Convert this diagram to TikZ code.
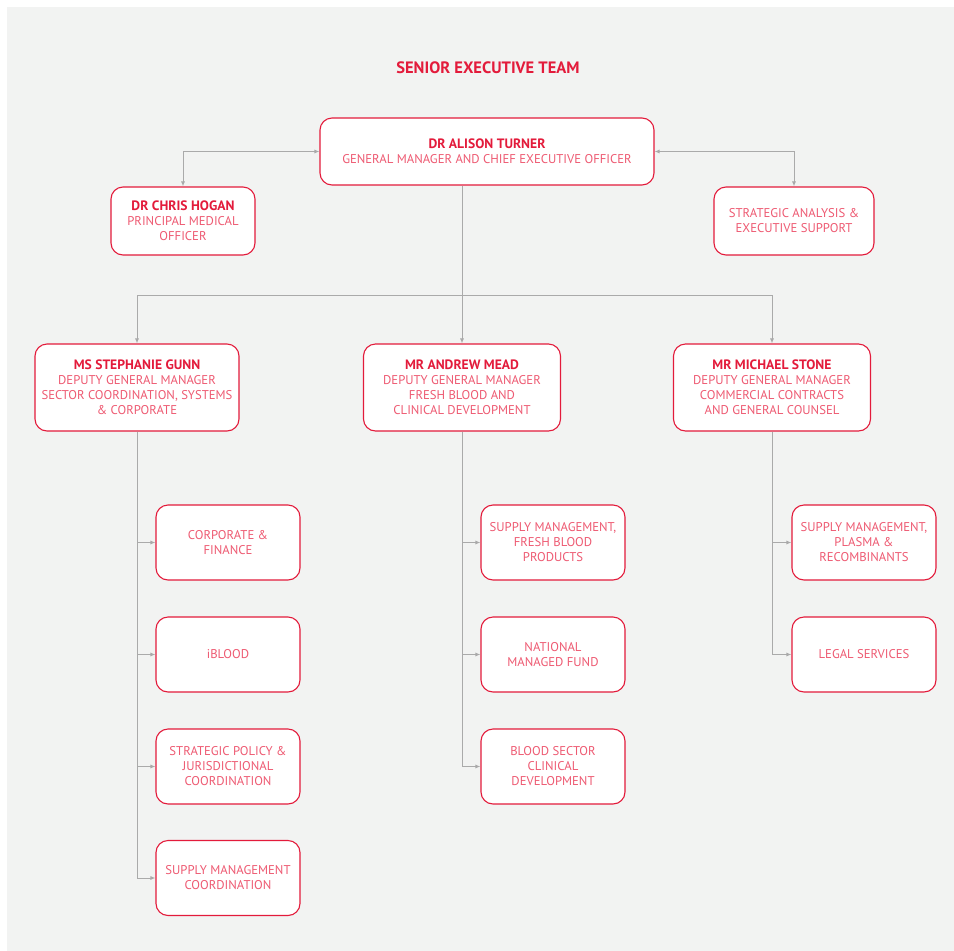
\documentclass[tikz,border=0pt]{standalone}
\usepackage{fontspec}
\setmainfont{PT Sans}
\usepackage{tikz}
\usetikzlibrary{arrows.meta, positioning}

\definecolor{bloodred}{RGB}{227, 27, 59}
\definecolor{softred}{RGB}{238, 90, 114}
\definecolor{panelgrey}{RGB}{242, 243, 242}
\definecolor{linkgrey}{RGB}{170, 170, 170}

\newcommand{\headname}[1]{{\fontsize{13.6}{15}\selectfont\bfseries\color{bloodred}#1}}

\tikzset{
  orgbox/.style={draw=bloodred, fill=white, rounded corners=12pt, line width=1.1pt,
    align=center, inner sep=2pt, text=softred, font=\fontsize{12.7}{15}\selectfont},
  childbox/.style={orgbox, minimum width=144pt, minimum height=75pt},
  link/.style={draw=linkgrey, line width=0.9pt},
  tip/.style={-{Latex[length=5pt, width=4pt]}},
  bothtips/.style={{Latex[length=5pt, width=4pt]}-{Latex[length=5pt, width=4pt]}}
}

\begin{document}
\begin{tikzpicture}[x=1pt, y=-1pt]
  \useasboundingbox (0,0) rectangle (954,951);
  \fill[panelgrey] (7,7) rectangle (954,951);

  \node[font=\fontsize{16.5}{18}\selectfont\bfseries, text=bloodred] (title) at (488,68) {SENIOR EXECUTIVE TEAM};

  % executive level
  \node[orgbox, minimum width=334pt, minimum height=67pt] (ceo) at (487,151.5) {
    \headname{DR ALISON TURNER}\\
    GENERAL MANAGER AND CHIEF EXECUTIVE OFFICER
  };
  \node[orgbox, minimum width=144pt, minimum height=68pt] (hogan) at (183,221) {
    \headname{DR CHRIS HOGAN}\\
    PRINCIPAL MEDICAL\\ OFFICER
  };
  \node[orgbox, minimum width=160pt, minimum height=68pt] (analysis) at (794,221) {
    STRATEGIC ANALYSIS \&\\ EXECUTIVE SUPPORT
  };

  % deputies
  \node[orgbox, minimum width=204pt, minimum height=87pt] (gunn) at (137,387.5) {
    \headname{MS STEPHANIE GUNN}\\
    DEPUTY GENERAL MANAGER\\ SECTOR COORDINATION, SYSTEMS\\ \& CORPORATE
  };
  \node[orgbox, minimum width=197pt, minimum height=87pt] (mead) at (462,387.5) {
    \headname{MR ANDREW MEAD}\\
    DEPUTY GENERAL MANAGER\\ FRESH BLOOD AND\\ CLINICAL DEVELOPMENT
  };
  \node[orgbox, minimum width=197pt, minimum height=87pt] (stone) at (772,387.5) {
    \headname{MR MICHAEL STONE}\\
    DEPUTY GENERAL MANAGER\\ COMMERCIAL CONTRACTS\\ AND GENERAL COUNSEL
  };

  % units
  \node[childbox] (corp) at (228,542.5) {CORPORATE \&\\ FINANCE};
  \node[childbox] (iblood) at (228,654.5) {iBLOOD};
  \node[childbox] (policy) at (228,766.5) {STRATEGIC POLICY \&\\ JURISDICTIONAL\\ COORDINATION};
  \node[childbox] (supcoord) at (228,878) {SUPPLY MANAGEMENT\\ COORDINATION};

  \node[childbox] (freshsup) at (553,542.5) {SUPPLY MANAGEMENT,\\ FRESH BLOOD\\ PRODUCTS};
  \node[childbox] (fund) at (553,654.5) {NATIONAL\\ MANAGED FUND};
  \node[childbox] (clinical) at (553,766.5) {BLOOD SECTOR\\ CLINICAL\\ DEVELOPMENT};

  \node[childbox] (plasma) at (864,542.5) {SUPPLY MANAGEMENT,\\ PLASMA \&\\ RECOMBINANTS};
  \node[childbox] (legal) at (864,654.5) {LEGAL SERVICES};

  % connectors
  \draw[link, bothtips] (ceo.west) -| (hogan.north);
  \draw[link, bothtips] (ceo.east) -| (analysis.north);

  \coordinate (split) at (462,295);
  \draw[link, tip] (ceo.south -| mead.north) -- (mead.north);
  \draw[link, tip] (split) -| (gunn.north);
  \draw[link, tip] (split) -| (stone.north);

  \foreach \unit in {corp, iblood, policy, supcoord}
    \draw[link, tip] (gunn.south) |- (\unit.west);
  \foreach \unit in {freshsup, fund, clinical}
    \draw[link, tip] (mead.south) |- (\unit.west);
  \foreach \unit in {plasma, legal}
    \draw[link, tip] (stone.south) |- (\unit.west);
\end{tikzpicture}
\end{document}
